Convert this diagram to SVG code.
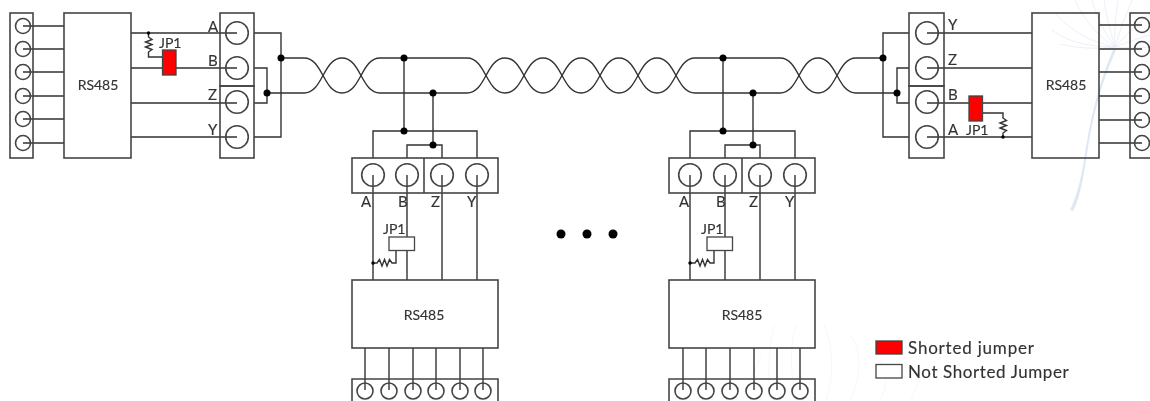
<svg xmlns="http://www.w3.org/2000/svg" width="1150" height="401" viewBox="0 0 1150 401">
<style>
.b{fill:none;stroke:#444;stroke-width:1.6}
.w{fill:none;stroke:#333;stroke-width:1.4}
.c{fill:#fff;stroke:#444;stroke-width:1.4}
.d{fill:#000}
.t{font-family:Lato,"Liberation Sans",sans-serif;fill:#333;font-size:14px;stroke:#333;stroke-width:.15}
.l{font-size:15px}
.g{font-size:17px;letter-spacing:.6px}
.m{text-anchor:middle}
.wm{fill:none;stroke:#e2e9f2;stroke-width:.7}
.wf{fill:none;stroke:#f0f3f7;stroke-width:.7}
.j{stroke:#444;stroke-width:1.3}
</style>
<defs>
<filter id="soft" filterUnits="userSpaceOnUse" x="0" y="0" width="1150" height="401"><feGaussianBlur stdDeviation="0.45"/></filter>
<g id="pin"><circle class="b" r="11.3"/></g>
</defs>
<rect width="1150" height="401" fill="#fff"/>
<g filter="url(#soft)">
<g id="watermark">
<path d="M1113 50C1098 85 1090 120 1084 160C1080 185 1075 200 1070 210L1073 211C1079 200 1082 185 1086 160C1092 120 1100 85 1116 50Z" fill="#dfe7f1"/>
<path class="wm" d="M1115 47C1100 44 1075 36 1056 14M1115 47C1104 40 1086 25 1075 0M1115 47C1106 34 1096 18 1092 0M1115 47C1110 30 1106 15 1104 0M1115 47C1114 30 1116 15 1118 0M1115 47C1120 30 1126 15 1132 0M1115 47C1125 36 1136 25 1150 14M1115 47C1096 47 1070 44 1052 30M1115 47C1100 49 1080 49 1060 44M1115 47C1128 42 1140 38 1150 35M1115 47C1130 48 1140 48 1150 47"/>
<path class="wf" d="M826 401C834 375 834 350 824 325M850 401C862 375 862 350 850 335M880 401C888 385 888 372 880 360M796 401C790 370 790 345 796 325M770 401C768 375 768 350 774 325M910 401C915 392 918 385 920 378M742 401C748 385 754 370 762 355"/>
</g>
<g id="connectors">
<path class="w" d="M23 26H64M23 49H64M23 72H64M23 96H64M23 119H64M23 143H64"/>
<path class="w" d="M131 33H237M131 68H237M131 103H237M131 137H237"/>
<path class="w" d="M254 33H281V137H254M254 68H267V103H254"/>
<path class="w" d="M281 58H304C323 58 323 93 342 93S361 58 380 58H467C486 58 486 93 505 93S524 58 543 58 562 93 581 93 600 58 619 58 638 93 657 93 676 58 695 58H780C799 58 799 93 818 93S837 58 856 58H883"/>
<path class="w" d="M267 93H304C323 93 323 58 342 58S361 93 380 93H467C486 93 486 58 505 58S524 93 543 93 562 58 581 58 600 93 619 93 638 58 657 58 676 93 695 93H780C799 93 799 58 818 58S837 93 856 93H897"/>
<path class="w" d="M404 58V131M433 93V145M373 158V131H477V158M407 158V145H442V158"/>
<path class="w" d="M723 58V131M753 93V145M690 158V131H795V158M725 158V145H760V158"/>
<path class="w" d="M373 175V280M407 175V280M442 175V280M477 175V280"/>
<path class="w" d="M690 175V280M725 175V280M760 175V280M795 175V280"/>
<path class="w" d="M365 348V390M389 348V390M413 348V390M436 348V390M460 348V390M483 348V390"/>
<path class="w" d="M683 348V390M706 348V390M730 348V390M754 348V390M777 348V390M800 348V390"/>
<path class="w" d="M909 33H883V137H909M909 68H897V103H909"/>
<path class="w" d="M927 33H1032M927 68H1032M927 103H1032M927 137H1032"/>
<path class="w" d="M1099 25H1142M1099 49H1142M1099 72H1142M1099 96H1142M1099 120H1142M1099 143H1142"/>
<path class="w" d="M148.500 33V37L152 39.500 145.500 42 152 44.500 145.500 47 152 49.500 148.500 52V57H162"/>
<path class="w" d="M982 113H1003V118L1006.500 120.500 1000 123 1006.500 125.500 1000 128 1006.500 130.500 1003 133V137"/>
<path class="w" d="M373 263H377L379.500 259.500 382 266 384.500 259.500 387 266 389.500 259.500 392 263H396V250"/>
<path class="w" d="M690 263H695L697.500 259.500 700 266 702.500 259.500 705 266 707.500 259.500 710 263H714V250"/>
<circle class="d" cx="281" cy="58" r="3.500"/><circle class="d" cx="267" cy="93" r="3.500"/>
<circle class="d" cx="404" cy="58" r="3.500"/><circle class="d" cx="433" cy="93" r="3.500"/>
<circle class="d" cx="404" cy="131" r="3.500"/><circle class="d" cx="433" cy="145" r="3.500"/>
<circle class="d" cx="723" cy="58" r="3.500"/><circle class="d" cx="753" cy="93" r="3.500"/>
<circle class="d" cx="723" cy="131" r="3.500"/><circle class="d" cx="753" cy="145" r="3.500"/>
<circle class="d" cx="883" cy="58" r="3.500"/><circle class="d" cx="897" cy="93" r="3.500"/>
<circle class="d" cx="148.500" cy="33" r="1.700"/><circle class="d" cx="1003" cy="137" r="1.700"/>
<circle class="d" cx="373" cy="263" r="1.700"/><circle class="d" cx="690" cy="263" r="1.700"/>
</g>
<g id="left-strip"><rect class="b" x="10" y="13" width="23" height="145"/>
<g class="b"><circle cx="23" cy="26" r="7.500"/><circle cx="23" cy="49" r="7.500"/><circle cx="23" cy="72" r="7.500"/><circle cx="23" cy="96" r="7.500"/><circle cx="23" cy="119" r="7.500"/><circle cx="23" cy="143" r="7.500"/></g></g>
<g id="left-rs485"><rect class="b" x="64" y="13" width="67" height="145"/><text class="t m" x="98" y="90">RS485</text></g>
<g id="left-terminal"><rect class="b" x="220" y="13" width="34" height="73"/><rect class="b" x="220" y="86" width="34" height="72"/>
<use href="#pin" x="237" y="33"/><use href="#pin" x="237" y="68"/><use href="#pin" x="237" y="102"/><use href="#pin" x="237" y="137"/>
<text class="t l" x="208" y="32">A</text><text class="t l" x="208" y="66">B</text><text class="t l" x="208" y="100">Z</text><text class="t l" x="208" y="135">Y</text></g>
<g id="left-jp1"><rect class="j" x="162.500" y="50" width="13.500" height="25" fill="#f00"/><text class="t" x="159" y="48">JP1</text></g>
<g id="mid1-terminal"><rect class="b" x="352" y="158" width="146" height="35"/><path class="b" d="M424 158V193"/>
<use href="#pin" x="373" y="175"/><use href="#pin" x="407" y="175"/><use href="#pin" x="442" y="175"/><use href="#pin" x="477" y="175"/>
<text class="t l" x="361" y="207">A</text><text class="t l" x="398" y="207">B</text><text class="t l" x="431" y="207">Z</text><text class="t l" x="467" y="207">Y</text></g>
<g id="mid1-jp1"><rect class="j" x="389" y="237" width="25.500" height="13.500" fill="#fff"/><text class="t" x="383" y="234">JP1</text></g>
<g id="mid1-rs485"><rect class="b" x="352" y="280" width="146" height="68"/><text class="t m" x="424" y="320">RS485</text></g>
<g id="mid1-strip"><path class="b" d="M352 401V379H498V401"/>
<g class="b"><circle cx="365" cy="391" r="8"/><circle cx="389" cy="391" r="8"/><circle cx="413" cy="391" r="8"/><circle cx="436" cy="391" r="8"/><circle cx="460" cy="391" r="8"/><circle cx="483" cy="391" r="8"/></g></g>
<g id="mid2-terminal"><rect class="b" x="669" y="158" width="146" height="35"/><path class="b" d="M742 158V193"/>
<use href="#pin" x="690" y="175"/><use href="#pin" x="725" y="175"/><use href="#pin" x="760" y="175"/><use href="#pin" x="795" y="175"/>
<text class="t l" x="679" y="207">A</text><text class="t l" x="716" y="207">B</text><text class="t l" x="749" y="207">Z</text><text class="t l" x="785" y="207">Y</text></g>
<g id="mid2-jp1"><rect class="j" x="707" y="237" width="25.500" height="13.500" fill="#fff"/><text class="t" x="701" y="234">JP1</text></g>
<g id="mid2-rs485"><rect class="b" x="669" y="280" width="146" height="68"/><text class="t m" x="742" y="320">RS485</text></g>
<g id="mid2-strip"><path class="b" d="M669 401V379H815V401"/>
<g class="b"><circle cx="683" cy="391" r="8"/><circle cx="706" cy="391" r="8"/><circle cx="730" cy="391" r="8"/><circle cx="754" cy="391" r="8"/><circle cx="777" cy="391" r="8"/><circle cx="800" cy="391" r="8"/></g></g>
<g id="ellipsis"><circle class="d" cx="561" cy="234" r="4.500"/><circle class="d" cx="587" cy="234" r="4.500"/><circle class="d" cx="613" cy="234" r="4.500"/></g>
<g id="right-terminal"><rect class="b" x="909" y="13" width="35" height="73"/><rect class="b" x="909" y="86" width="35" height="72"/>
<use href="#pin" x="927" y="33"/><use href="#pin" x="927" y="68"/><use href="#pin" x="927" y="102"/><use href="#pin" x="927" y="137"/>
<text class="t l" x="948" y="30">Y</text><text class="t l" x="948" y="65">Z</text><text class="t l" x="948" y="100">B</text><text class="t l" x="948" y="135">A</text></g>
<g id="right-jp1"><rect class="j" x="969" y="96" width="13.500" height="25" fill="#f00"/><text class="t" x="966" y="135">JP1</text></g>
<g id="right-rs485"><rect class="b" x="1032" y="13" width="67" height="145"/><text class="t m" x="1066" y="90">RS485</text></g>
<g id="right-strip"><rect class="b" x="1130" y="13" width="30" height="145"/>
<g class="b"><circle cx="1142" cy="25" r="7.500"/><circle cx="1142" cy="49" r="7.500"/><circle cx="1142" cy="72" r="7.500"/><circle cx="1142" cy="96" r="7.500"/><circle cx="1142" cy="120" r="7.500"/><circle cx="1142" cy="143" r="7.500"/></g></g>
<g id="legend"><rect class="j" x="876" y="341" width="26" height="13" fill="#f00"/><rect class="j" x="876" y="364.500" width="26" height="13.500" fill="#fff"/>
<text class="t g" x="908" y="354" style="letter-spacing:.8px">Shorted jumper</text><text class="t g" x="908" y="378">Not Shorted Jumper</text></g>
</g>
</svg>
